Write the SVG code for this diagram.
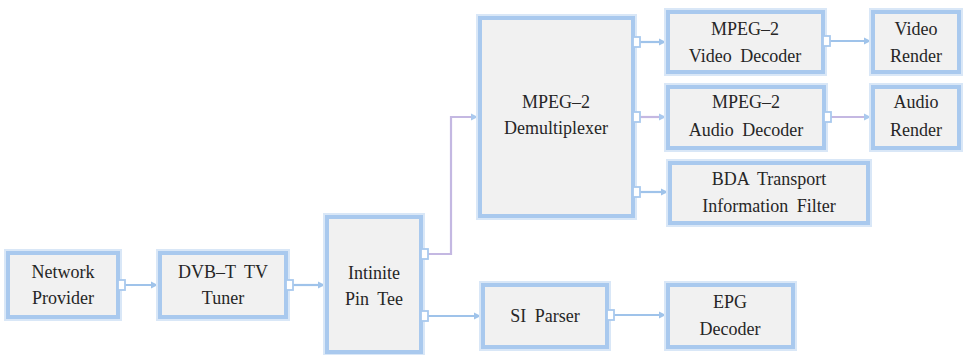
<svg xmlns="http://www.w3.org/2000/svg" width="968" height="355" viewBox="0 0 968 355">
  <defs>
    <style>
      .box { fill: #f1f1f1; stroke: #a9c9ee; stroke-width: 4; }
      .halo { fill: none; stroke: #d9e7f7; stroke-width: 8; }
      .port { fill: #ffffff; stroke: #a9c9ee; stroke-width: 1.8; }
      .wire { fill: none; stroke: #9fc3ea; stroke-width: 2.2; }
      .wire.alt { stroke: #c4b8e2; }
    </style>
    <marker id="tip" viewBox="0 0 8 8" refX="8" refY="4" markerWidth="3.4" markerHeight="3.4" orient="auto" markerUnits="strokeWidth">
      <path d="M0,0 L8,4 L0,8 z" fill="#9fc3ea"/>
    </marker>
    <marker id="tipAlt" viewBox="0 0 8 8" refX="8" refY="4" markerWidth="3.4" markerHeight="3.4" orient="auto" markerUnits="strokeWidth">
      <path d="M0,0 L8,4 L0,8 z" fill="#a9c9ee"/>
    </marker>
  </defs>

  <rect width="968" height="355" fill="#ffffff"/>

  <!-- connectors -->
  <g id="connectors">
    <path class="wire" d="M125,285 H158" marker-end="url(#tip)"/>
    <path class="wire" d="M293,285 H325" marker-end="url(#tip)"/>
    <path class="wire alt" d="M428,254 H451 V117 H478" marker-end="url(#tipAlt)"/>
    <path class="wire" d="M428,316 H481" marker-end="url(#tip)"/>
    <path class="wire" d="M640,42 H666" marker-end="url(#tip)"/>
    <path class="wire alt" d="M640,117 H666" marker-end="url(#tipAlt)"/>
    <path class="wire" d="M640,192 H668" marker-end="url(#tip)"/>
    <path class="wire" d="M830,41 H871" marker-end="url(#tip)"/>
    <path class="wire alt" d="M831,117 H871" marker-end="url(#tipAlt)"/>
    <path class="wire" d="M614,315 H666" marker-end="url(#tip)"/>
  </g>

  <!-- filter nodes -->
  <g font-family="Liberation Serif, DejaVu Serif, serif" font-size="18" fill="#262626" text-anchor="middle" word-spacing="4">
    <g id="network-provider">
      <rect class="halo" x="8" y="253" width="110" height="64"/>
      <rect class="box" x="8" y="253" width="110" height="64"/>
      <rect class="port" x="118" y="280" width="7" height="10"/>
      <text x="63" y="278">Network</text>
      <text x="63" y="304">Provider</text>
    </g>

    <g id="dvbt-tuner">
      <rect class="halo" x="160" y="253" width="126" height="64"/>
      <rect class="box" x="160" y="253" width="126" height="64"/>
      <rect class="port" x="286" y="280" width="7" height="10"/>
      <text x="223" y="278">DVB–T TV</text>
      <text x="223" y="304">Tuner</text>
    </g>

    <g id="pin-tee">
      <rect class="halo" x="327" y="217" width="94" height="135"/>
      <rect class="box" x="327" y="217" width="94" height="135"/>
      <rect class="port" x="421" y="249" width="7" height="10"/>
      <rect class="port" x="421" y="311" width="7" height="10"/>
      <text x="374" y="279">Intinite</text>
      <text x="374" y="305">Pin Tee</text>
    </g>

    <g id="demultiplexer">
      <rect class="halo" x="480" y="18" width="153" height="198"/>
      <rect class="box" x="480" y="18" width="153" height="198"/>
      <rect class="port" x="633" y="37" width="7" height="10"/>
      <rect class="port" x="633" y="112" width="7" height="10"/>
      <rect class="port" x="633" y="187" width="7" height="10"/>
      <text x="556" y="108">MPEG–2</text>
      <text x="556" y="134">Demultiplexer</text>
    </g>

    <g id="video-decoder">
      <rect class="halo" x="668" y="12" width="155" height="60"/>
      <rect class="box" x="668" y="12" width="155" height="60"/>
      <rect class="port" x="823" y="36" width="7" height="10"/>
      <text x="745" y="35">MPEG–2</text>
      <text x="745" y="62">Video Decoder</text>
    </g>

    <g id="video-render">
      <rect class="halo" x="873" y="12" width="86" height="60"/>
      <rect class="box" x="873" y="12" width="86" height="60"/>
      <text x="916" y="35">Video</text>
      <text x="916" y="62">Render</text>
    </g>

    <g id="audio-decoder">
      <rect class="halo" x="668" y="87" width="156" height="61"/>
      <rect class="box" x="668" y="87" width="156" height="61"/>
      <rect class="port" x="824" y="112" width="7" height="10"/>
      <text x="746" y="108">MPEG–2</text>
      <text x="746" y="136">Audio Decoder</text>
    </g>

    <g id="audio-render">
      <rect class="halo" x="873" y="87" width="86" height="61"/>
      <rect class="box" x="873" y="87" width="86" height="61"/>
      <text x="916" y="108">Audio</text>
      <text x="916" y="136">Render</text>
    </g>

    <g id="bda-transport-info-filter">
      <rect class="halo" x="670" y="163" width="198" height="60"/>
      <rect class="box" x="670" y="163" width="198" height="60"/>
      <text x="769" y="185">BDA Transport</text>
      <text x="769" y="212">Information Filter</text>
    </g>

    <g id="si-parser">
      <rect class="halo" x="483" y="285" width="124" height="62"/>
      <rect class="box" x="483" y="285" width="124" height="62"/>
      <rect class="port" x="607" y="310" width="7" height="10"/>
      <text x="545" y="322">SI Parser</text>
    </g>

    <g id="epg-decoder">
      <rect class="halo" x="668" y="285" width="125" height="62"/>
      <rect class="box" x="668" y="285" width="125" height="62"/>
      <text x="730" y="308">EPG</text>
      <text x="730" y="335">Decoder</text>
    </g>
  </g>
</svg>
